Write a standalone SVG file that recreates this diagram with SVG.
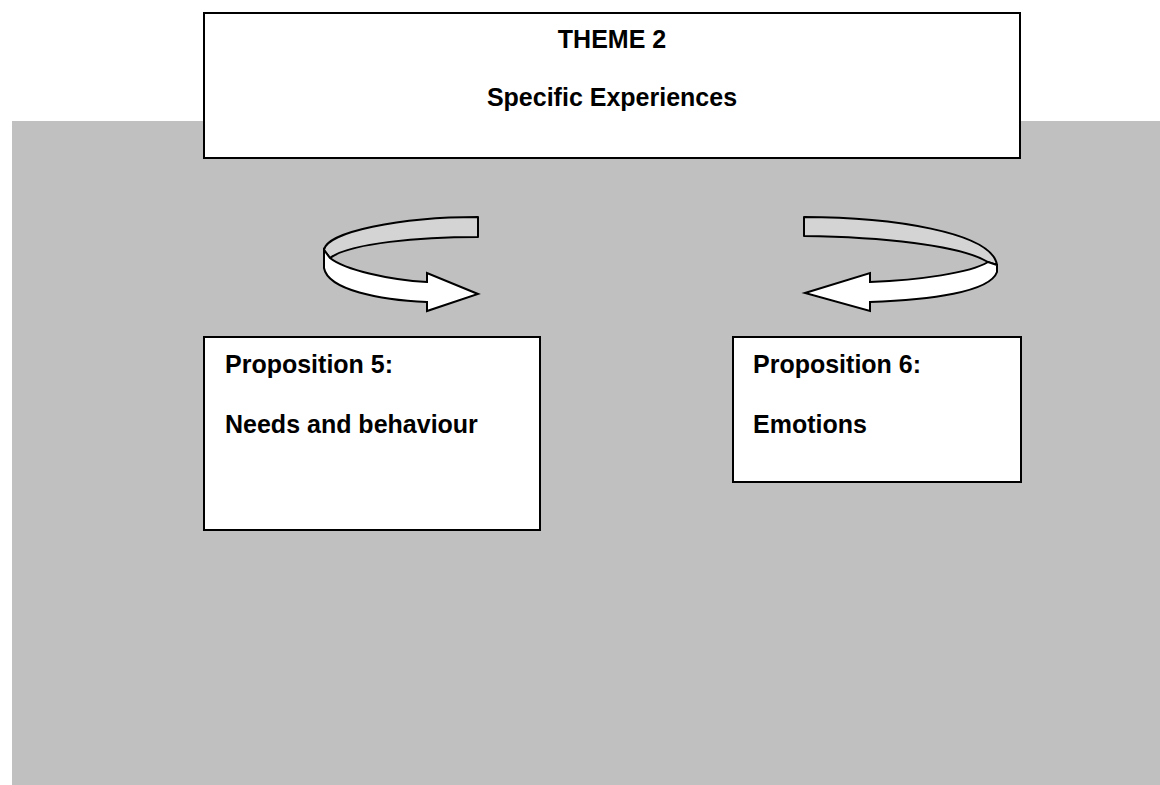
<svg xmlns="http://www.w3.org/2000/svg" width="1160" height="785" viewBox="0 0 1160 785">
  <style>
    .box { fill: #ffffff; stroke: #000000; stroke-width: 2; }
    .lbl { font-family: "Liberation Sans", Arial, sans-serif; font-weight: bold; font-size: 25px; fill: #000000; }
    .mid { text-anchor: middle; }
    .back { fill: #d4d4d4; stroke: #000000; stroke-width: 2; stroke-linejoin: round; }
    .front { fill: #ffffff; stroke: #000000; stroke-width: 2; stroke-linejoin: miter; }
  </style>

  <!-- page backdrop -->
  <rect x="0" y="0" width="1160" height="785" fill="#ffffff"/>
  <rect x="12" y="121" width="1148" height="664" fill="#c0c0c0"/>

  <!-- curved ribbon arrows -->
  <g id="connectors">
    <g id="arrow-theme-to-p5">
      <path class="back" d="M478,217 L478,237 C420,237 350,243 330,258 L324,250 C326,232 400,217 478,217 Z"/>
      <path class="front" d="M330,258 C345,270 390,280 427,282 L427,273 L478,294 L427,311 L427,302 C380,300 328,290 324,268 L324,250 Z"/>
    </g>
    <g id="arrow-theme-to-p6">
      <path class="back" d="M804,217 C890,217 992,232 997,265 L988,262 C960,245 880,237 804,236 Z"/>
      <path class="front" d="M988,262 C970,273 920,280 870,282 L870,273 L805,293 L870,311 L870,302 C930,300 990,292 997,272 L997,265 Z"/>
    </g>
  </g>

  <g id="theme2">
    <rect class="box" x="204" y="13" width="816" height="145"/>
    <text class="lbl mid" x="612" y="48">THEME 2</text>
    <text class="lbl mid" x="612" y="106">Specific Experiences</text>
  </g>

  <g id="proposition5">
    <rect class="box" x="204" y="337" width="336" height="193"/>
    <text class="lbl" x="225" y="373">Proposition 5:</text>
    <text class="lbl" x="225" y="433">Needs and behaviour</text>
  </g>

  <g id="proposition6">
    <rect class="box" x="733" y="337" width="288" height="145"/>
    <text class="lbl" x="753" y="373">Proposition 6:</text>
    <text class="lbl" x="753" y="433">Emotions</text>
  </g>
</svg>
